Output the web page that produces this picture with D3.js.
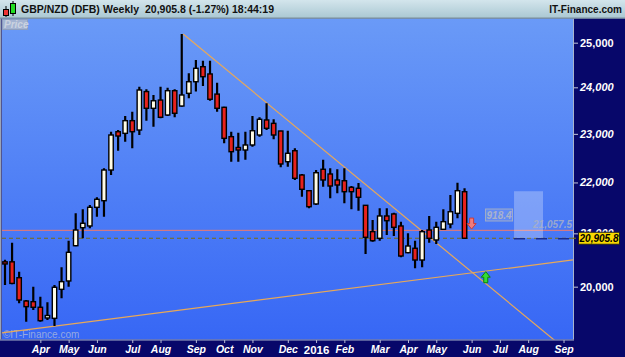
<!DOCTYPE html>
<html>
<head>
<meta charset="utf-8">
<script src="https://cdn.jsdelivr.net/npm/d3@7"></script>
<style>
  body { margin: 0; background: #07076a; }
  svg { display: block; font-family: "Liberation Sans", Arial, sans-serif; }
</style>
</head>
<body>
<svg id="chart" width="625" height="357"></svg>
<script>
// weekly GBP/NZD candles, one per week (index 0 = first visible week)
var opens  = [20460, 20460, 20165, 19740, 19728, 19627, 19436, 19430, 19952, 20105,
              20764, 21109, 21142, 21506, 21636, 22252, 23045, 23011, 23279, 23081,
              23907, 23544, 23722, 23400, 23926, 23593, 23869, 24123, 24457, 24295,
              23852, 23565, 22941, 22715, 22663, 22767, 22976, 23294, 23222, 23060,
              22422, 22648, 22151, 21835, 21572, 22267, 22171, 22050, 22035, 21903,
              21883, 21545, 21032, 20905, 21336, 21375, 21142, 20632, 20715, 20494,
              21064, 20873, 21078, 21180, 21388, 21815];
var highs  = [20500, 20820, 20276, 19758, 20000, 19818, 19717, 20031, 20358, 20859,
              21388, 21467, 21551, 21704, 22287, 23045, 23081, 23379, 23471, 24014,
              23956, 23832, 24014, 23990, 23956, 25199, 24310, 24607, 24592, 24592,
              24101, 23579, 23045, 23024, 23045, 23379, 23351, 23654, 23308, 23066,
              23066, 22698, 22171, 21849, 22252, 22460, 22287, 22267, 22287, 21929,
              21987, 21551, 21258, 21487, 21487, 21400, 21225, 21000, 20859, 21064,
              21336, 21225, 21467, 21750, 21996, 21883];
var lows   = [20030, 20045, 19699, 19370, 19578, 19370, 19400, 19294, 19789, 20000,
              20755, 20905, 21097, 21322, 21322, 22151, 22648, 22836, 22698, 22976,
              23279, 23151, 23330, 23379, 23351, 23579, 23760, 23907, 24030, 23707,
              23471, 22802, 22422, 22422, 22460, 22732, 22941, 23081, 22886, 22307,
              22319, 22050, 21715, 21487, 21551, 21915, 21684, 21783, 21585, 21467,
              21439, 20607, 20839, 20859, 20968, 20950, 20545, 20620, 20339, 20358,
              20822, 20796, 21064, 21097, 21290, 20890];
var closes = [20420, 20060, 19758, 19638, 19627, 19388, 19480, 19989, 20092, 20639,
              21064, 21194, 21506, 21664, 22252, 22976, 22955, 23279, 23045, 23941,
              23544, 23707, 23351, 23926, 23437, 23832, 24123, 24421, 24234, 23739,
              23544, 22906, 22628, 22663, 22767, 23066, 23308, 23117, 22976, 22375,
              22595, 22084, 21863, 21518, 22197, 22050, 21929, 21949, 21815, 21815,
              21704, 20924, 20859, 21336, 21244, 21116, 20569, 20758, 20494, 21032,
              20905, 21116, 21225, 21419, 21835, 20905.8];

// month ticks on the week index axis
var monthTicks  = [5, 9, 13, 18, 22, 27, 31, 35, 40, 44, 48, 53, 57, 61, 66, 70, 74, 79];
var monthLabels = ['Apr', 'May', 'Jun', 'Jul', 'Aug', 'Sep', 'Oct', 'Nov', 'Dec', '2016',
                   'Feb', 'Mar', 'Apr', 'May', 'Jun', 'Jul', 'Aug', 'Sep'];
var priceTicks  = [20000, 21000, 22000, 23000, 24000, 25000];

var lastPrice = 20905.8;
var pctChange = -1.27;
var refLevel = 21057.5;
var rangeSize = 918.4;
var rangeWeeks = [72, 76.1];
// trend lines as [week index, price] pairs
var downTrend = [[25.2, 25199], [77.5, 19066]];
var upTrend = [[7, 19290], [80.3, 20494]];
// signal arrows: [week index, price at tip]
var sellArrow = [66, 21082];
var buyArrow = [68, 20276];

var W = 625, H = 357;
var plotL = 2, plotR = 573, plotT = 18.5, plotB = 339.5;

var svg = d3.select('#chart');
var defs = svg.append('defs');

var bg = defs.append('linearGradient').attr('id', 'bg').attr('x1', 0).attr('y1', 0).attr('x2', 0).attr('y2', 1);
bg.append('stop').attr('offset', '0%').attr('stop-color', '#6a9af7');
bg.append('stop').attr('offset', '100%').attr('stop-color', '#3767f5');

var hd = defs.append('linearGradient').attr('id', 'hd').attr('x1', 0).attr('y1', 0).attr('x2', 0).attr('y2', 1);
hd.append('stop').attr('offset', '0%').attr('stop-color', '#d3e5ec');
hd.append('stop').attr('offset', '100%').attr('stop-color', '#a9c7d2');

defs.append('clipPath').attr('id', 'clip').append('rect')
    .attr('x', plotL).attr('y', plotT).attr('width', plotR - plotL).attr('height', plotB - plotT);

var x = d3.scaleLinear().domain([-0.424, 80.34]).range([plotL, plotR]);
var y = d3.scaleLog().domain([19057, 25559]).range([plotB, plotT]);

// panels
svg.append('rect').attr('width', W).attr('height', H).attr('fill', '#07076a');
svg.append('rect').attr('x', plotL).attr('y', plotT).attr('width', plotR - plotL).attr('height', plotB - plotT)
    .attr('fill', 'url(#bg)');
svg.append('rect').attr('x', 0).attr('y', plotT).attr('width', 1.5).attr('height', plotB - plotT).attr('fill', '#9aa4b8');
svg.append('line').attr('x1', plotR + 0.5).attr('x2', plotR + 0.5).attr('y1', plotT).attr('y2', plotB)
    .attr('stroke', '#a8b4cc').attr('stroke-width', 1);
svg.append('line').attr('x1', 0).attr('x2', plotR + 1).attr('y1', plotB + 0.5).attr('y2', plotB + 0.5)
    .attr('stroke', '#a8b4cc').attr('stroke-width', 1);

// header bar
svg.append('rect').attr('width', W).attr('height', plotT).attr('fill', 'url(#hd)');
svg.append('line').attr('x1', 0).attr('x2', W).attr('y1', plotT - 0.5).attr('y2', plotT - 0.5)
    .attr('stroke', '#7d8f99');

var icon = svg.append('g');
icon.append('line').attr('x1', 6).attr('x2', 6).attr('y1', 6).attr('y2', 17).attr('stroke', '#000').attr('stroke-width', 1);
icon.append('rect').attr('x', 3.5).attr('y', 9.5).attr('width', 5).attr('height', 6).attr('fill', '#e33').attr('stroke', '#000');
icon.append('line').attr('x1', 13).attr('x2', 13).attr('y1', 1).attr('y2', 16).attr('stroke', '#000').attr('stroke-width', 1);
icon.append('rect').attr('x', 10.5).attr('y', 3.5).attr('width', 5).attr('height', 10).attr('fill', '#2d2').attr('stroke', '#000');

var titleBits = [
    {t: 'GBP/NZD (DFB)', x: 21},
    {t: 'Weekly', x: 103},
    {t: d3.format(',.1f')(lastPrice) + ' (' + pctChange.toFixed(2) + '%)', x: 145},
    {t: '18:44:19', x: 232}
];
svg.selectAll('text.title').data(titleBits).enter().append('text')
    .attr('class', 'title')
    .attr('x', function (d) { return d.x; }).attr('y', 13)
    .attr('font-size', 10.5).attr('font-weight', 'bold').attr('fill', '#111')
    .text(function (d) { return d.t; });
svg.append('text').attr('x', 622).attr('y', 13).attr('text-anchor', 'end')
    .attr('font-size', 10).attr('font-weight', 'bold').attr('fill', '#111').text('IT-Finance.com');

// plot content (clipped)
var plot = svg.append('g').attr('clip-path', 'url(#clip)');

plot.append('text').attr('x', 3).attr('y', 338)
    .attr('font-size', 10).attr('fill', '#a8b6dc').attr('fill-opacity', 0.85).text('\u00a9IT-Finance.com');

// trend lines, extended across the plot
function trendPath(pts, extendLeft) {
    var x0 = x(pts[0][0]), y0 = y(pts[0][1]);
    var x1 = x(pts[1][0]), y1 = y(pts[1][1]);
    var k = (y1 - y0) / (x1 - x0);
    var xs = extendLeft ? plotL : x0;
    var xe = plotR + 40;
    return [[xs, y0 + k * (xs - x0)], [xe, y0 + k * (xe - x0)]];
}
plot.append('path').datum(trendPath(upTrend, true))
    .attr('d', d3.line()).attr('fill', 'none').attr('stroke', '#e8a858').attr('stroke-width', 1.2);
plot.append('path').datum(trendPath(downTrend, false))
    .attr('d', d3.line()).attr('fill', 'none').attr('stroke', '#e8a858').attr('stroke-width', 1.2);

// reference lines
plot.append('line').attr('x1', plotL).attr('x2', plotR).attr('y1', y(refLevel)).attr('y2', y(refLevel))
    .attr('stroke', '#ec7a6e').attr('stroke-width', 1);
plot.append('line').attr('x1', plotL).attr('x2', plotR).attr('y1', y(lastPrice)).attr('y2', y(lastPrice))
    .attr('stroke', '#7a6e10').attr('stroke-width', 1.2).attr('stroke-dasharray', '4,3');

// projected range box
plot.append('rect')
    .attr('x', x(rangeWeeks[0])).attr('width', x(rangeWeeks[1]) - x(rangeWeeks[0]))
    .attr('y', y(lastPrice + rangeSize)).attr('height', y(lastPrice) - y(lastPrice + rangeSize))
    .attr('fill', '#ffffff').attr('fill-opacity', 0.28);
plot.append('line').attr('x1', x(rangeWeeks[0])).attr('x2', plotR).attr('y1', y(lastPrice) + 0.5).attr('y2', y(lastPrice) + 0.5)
    .attr('stroke', '#1c2c8a').attr('stroke-width', 1.5).attr('stroke-dasharray', '11,11');

var rangeMid = y(lastPrice + rangeSize / 2);
var rangeLbl = plot.append('g');
rangeLbl.append('rect').attr('x', x(rangeWeeks[0]) - 28.5).attr('y', rangeMid - 5.5)
    .attr('width', 27).attr('height', 12).attr('fill', '#8fa9f0').attr('fill-opacity', 0.35)
    .attr('stroke', '#a0acc8').attr('stroke-width', 1);
rangeLbl.append('text').attr('x', x(rangeWeeks[0]) - 15).attr('y', rangeMid + 4.5)
    .attr('text-anchor', 'middle').attr('font-size', 10).attr('font-weight', 'bold').attr('font-style', 'italic')
    .attr('fill', '#a9b2cc').text(d3.format('.1f')(rangeSize));
plot.append('text').attr('x', plotR - 1).attr('y', y(refLevel) - 2)
    .attr('text-anchor', 'end').attr('font-size', 10).attr('font-weight', 'bold').attr('font-style', 'italic')
    .attr('fill', '#a9b0c6').attr('fill-opacity', 0.85).text(d3.format(',.1f')(refLevel));

// candles
var candles = closes.map(function (c, i) {
    return {i: i, o: opens[i], h: highs[i], l: lows[i], c: c};
});
var cg = plot.selectAll('g.candle').data(candles).enter().append('g').attr('class', 'candle');
cg.append('line')
    .attr('x1', function (d) { return x(d.i); }).attr('x2', function (d) { return x(d.i); })
    .attr('y1', function (d) { return y(d.h); }).attr('y2', function (d) { return y(d.l); })
    .attr('stroke', '#000').attr('stroke-width', 2.2);
cg.append('rect')
    .attr('x', function (d) { return x(d.i) - 2.2; })
    .attr('width', 4.4)
    .attr('y', function (d) { return y(Math.max(d.o, d.c)); })
    .attr('height', function (d) { return Math.max(1.5, y(Math.min(d.o, d.c)) - y(Math.max(d.o, d.c))); })
    .attr('fill', function (d) { return d.c >= d.o ? '#fffce6' : '#e8221c'; })
    .attr('stroke', '#000').attr('stroke-width', 1.4);

// signal arrows
function arrowDown(cx, tip) {
    return 'M' + (cx - 2) + ',' + (tip - 11) + 'L' + (cx + 2) + ',' + (tip - 11) + 'L' + (cx + 2) + ',' + (tip - 5.5) +
        'L' + (cx + 4.5) + ',' + (tip - 5.5) + 'L' + cx + ',' + tip + 'L' + (cx - 4.5) + ',' + (tip - 5.5) +
        'L' + (cx - 2) + ',' + (tip - 5.5) + 'Z';
}
function arrowUp(cx, tip) {
    return 'M' + (cx - 2) + ',' + (tip + 11) + 'L' + (cx + 2) + ',' + (tip + 11) + 'L' + (cx + 2) + ',' + (tip + 5.5) +
        'L' + (cx + 4.5) + ',' + (tip + 5.5) + 'L' + cx + ',' + tip + 'L' + (cx - 4.5) + ',' + (tip + 5.5) +
        'L' + (cx - 2) + ',' + (tip + 5.5) + 'Z';
}
plot.append('path').attr('d', arrowDown(x(sellArrow[0]), y(sellArrow[1])))
    .attr('fill', '#f07c7c').attr('stroke', '#cc3a3a').attr('stroke-width', 1);
plot.append('path').attr('d', arrowUp(x(buyArrow[0]), y(buyArrow[1])))
    .attr('fill', '#34dd34').attr('stroke', '#0a850a').attr('stroke-width', 1);

// "Price" tab
svg.append('rect').attr('x', 2.5).attr('y', 19.5).attr('width', 25).attr('height', 10)
    .attr('fill', '#a4b4d2').attr('stroke', '#8e9fbf');
svg.append('text').attr('x', 4).attr('y', 28).attr('font-size', 10).attr('font-weight', 'bold')
    .attr('font-style', 'italic').attr('fill', '#cbd3e0').text('Price');

// price axis
var yAxis = svg.append('g').attr('transform', 'translate(' + (plotR + 1) + ',0)')
    .call(d3.axisRight(y).tickValues(priceTicks).tickFormat(d3.format(',')).tickSize(4).tickPadding(2));
yAxis.select('.domain').remove();
yAxis.selectAll('line').attr('stroke', '#c4c8dc');
yAxis.selectAll('text').attr('fill', '#fff').attr('font-size', 11).attr('font-weight', 'bold')
    .attr('font-family', '"Liberation Sans", Arial, sans-serif')
    .attr('font-style', function (d) { return d % 5000 === 0 ? 'normal' : 'italic'; });

// last price marker (covers the lower half of the 21,000 label, as in the source)
svg.append('line').attr('x1', plotR).attr('x2', 578).attr('y1', y(lastPrice)).attr('y2', y(lastPrice))
    .attr('stroke', '#7a6e10').attr('stroke-width', 1.2).attr('stroke-dasharray', '3,2');
svg.append('rect').attr('x', 578.5).attr('y', y(lastPrice) - 6).attr('width', 41).attr('height', 12)
    .attr('fill', '#f8d800').attr('stroke', '#222').attr('stroke-width', 1);
svg.append('text').attr('x', 599).attr('y', y(lastPrice) + 3.8).attr('text-anchor', 'middle')
    .attr('font-size', 10).attr('font-weight', 'bold').attr('font-style', 'italic').attr('fill', '#000')
    .text(d3.format(',.1f')(lastPrice));

// time axis
var xAxis = svg.append('g').attr('transform', 'translate(0,' + (plotB + 0.5) + ')')
    .call(d3.axisBottom(x).tickValues(monthTicks)
        .tickFormat(function (d, i) { return monthLabels[i]; }).tickSize(3).tickPadding(3));
xAxis.select('.domain').remove();
xAxis.selectAll('line').attr('stroke', '#b8bcd4');
xAxis.selectAll('text').attr('fill', '#fff').attr('font-weight', 'bold')
    .attr('font-family', '"Liberation Sans", Arial, sans-serif')
    .attr('font-style', function (d, i) { return monthLabels[i] === '2016' ? 'normal' : 'italic'; })
    .attr('font-size', function (d, i) { return monthLabels[i] === '2016' ? 11.5 : 10.5; });
</script>
</body>
</html>
